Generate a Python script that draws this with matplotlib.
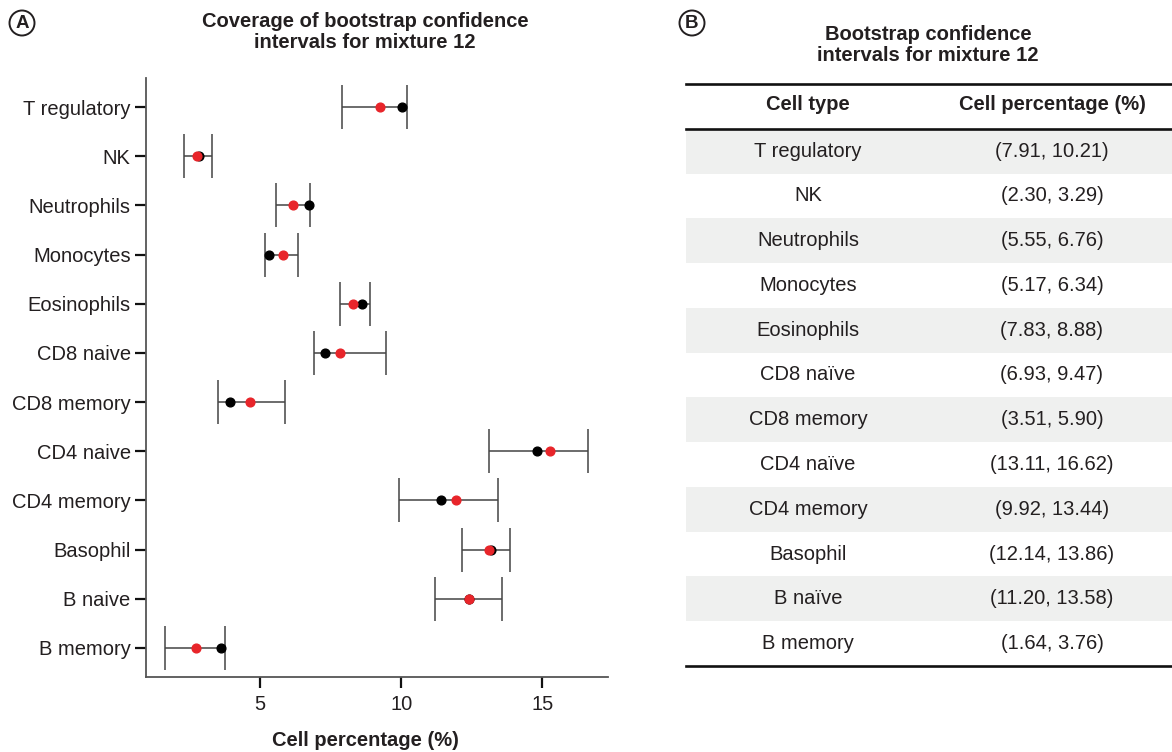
import numpy as np
import matplotlib
matplotlib.use("Agg")
import matplotlib.pyplot as plt
from matplotlib.patches import Ellipse

plt.rcParams['font.family'] = ['Liberation Sans', 'DejaVu Sans']

# data, top row first
cells_plot = ["T regulatory", "NK", "Neutrophils", "Monocytes", "Eosinophils",
              "CD8 naive", "CD8 memory", "CD4 naive", "CD4 memory",
              "Basophil", "B naive", "B memory"]
cells_table = ["T regulatory", "NK", "Neutrophils", "Monocytes", "Eosinophils",
               "CD8 naïve", "CD8 memory", "CD4 naïve", "CD4 memory",
               "Basophil", "B naïve", "B memory"]
ci_low = [7.91, 2.30, 5.55, 5.17, 7.83, 6.93, 3.51, 13.11, 9.92, 12.14, 11.20, 1.64]
ci_high = [10.21, 3.29, 6.76, 6.34, 8.88, 9.47, 5.90, 16.62, 13.44, 13.86, 13.58, 3.76]
true_val = [10.02, 2.85, 6.74, 5.33, 8.63, 7.32, 3.93, 14.81, 11.42, 13.20, 12.40, 3.63]
est_val = [9.26, 2.78, 6.18, 5.80, 8.31, 7.82, 4.63, 15.27, 11.94, 13.12, 12.40, 2.72]

txt = '#231f20'
W, H = 1172, 752
fig = plt.figure(figsize=(W / 100, H / 100), dpi=100)

# ---- panel A ----
ax = fig.add_axes([146 / W, 1 - 677 / H, (608 - 146) / W, (677 - 78) / H])
n = len(cells_plot)
ypos = np.arange(n)
lo = np.array(ci_low)
hi = np.array(ci_high)
ax.errorbar((lo + hi) / 2, ypos, xerr=(hi - lo) / 2, fmt='none', ecolor='#444444',
            elinewidth=1.1, capsize=16, capthick=1.1)
ax.plot(true_val, ypos, 'o', color='black', ms=6.3, zorder=3)
ax.plot(est_val, ypos, 'o', color='#e8252a', ms=6.3, zorder=4)

ax.set_ylim(n - 1 + 0.59, -0.59)
ax.set_xlim(0.96, 17.33)
ax.set_yticks(ypos)
ax.set_yticklabels(cells_plot)
ax.set_xticks([5, 10, 15])
for s in ['top', 'right']:
    ax.spines[s].set_visible(False)
for s in ['left', 'bottom']:
    ax.spines[s].set_color('#555555')
    ax.spines[s].set_linewidth(1.3)
ax.tick_params(axis='both', length=8, width=1.6, color='#111111', labelsize=14.5,
               labelcolor=txt)
ax.tick_params(axis='y', pad=3)
ax.tick_params(axis='x', pad=5)

fig.text(365 / W, 1 - 32 / H, "Coverage of bootstrap confidence\nintervals for mixture 12",
         ha='center', va='center', fontsize=14.5, fontweight='bold', color=txt,
         linespacing=1.1)
fig.text(365 / W, 1 - 740 / H, "Cell percentage (%)", ha='center', va='center',
         fontsize=14.5, fontweight='bold', color=txt)

# ---- panel B (table) ----
tb = fig.add_axes([686 / W, 1 - 666 / H, (W - 686) / W, (666 - 84) / H])
tb.set_xlim(0, 1)
tb.set_ylim(n + 1, 0)
tb.axis('off')
for i in range(n):
    if i % 2 == 0:
        tb.axhspan(1 + i, 2 + i, color='#eff0ef', lw=0, zorder=0)
    tb.text(0.251, 1.5 + i, cells_table[i], ha='center', va='center',
            fontsize=14.5, color=txt)
    tb.text(0.753, 1.5 + i, "(%.2f, %.2f)" % (ci_low[i], ci_high[i]),
            ha='center', va='center', fontsize=14.5, color=txt)
tb.text(0.251, 0.45, "Cell type", ha='center', va='center', fontsize=14.5,
        fontweight='bold', color=txt)
tb.text(0.753, 0.45, "Cell percentage (%)", ha='center', va='center', fontsize=14.5,
        fontweight='bold', color=txt)
for yy in [0, 1, n + 1]:
    tb.axhline(yy, color='#111111', lw=1.9, clip_on=False, zorder=5)

fig.text(928 / W, 1 - 45 / H, "Bootstrap confidence\nintervals for mixture 12",
         ha='center', va='center', fontsize=14.5, fontweight='bold', color=txt,
         linespacing=1.1)

# panel letters in circles
for lab, px in [("A", 22), ("B", 692)]:
    fig.patches.append(Ellipse((px / W, 1 - 23 / H), 25 / W, 25 / H,
                               transform=fig.transFigure, fc='white', ec=txt, lw=1.4))
    fig.text(px / W, 1 - 23.5 / H, lab, ha='center', va='center', fontsize=13.5,
             fontweight='bold', color=txt)

fig.savefig("out.png", dpi=100)
